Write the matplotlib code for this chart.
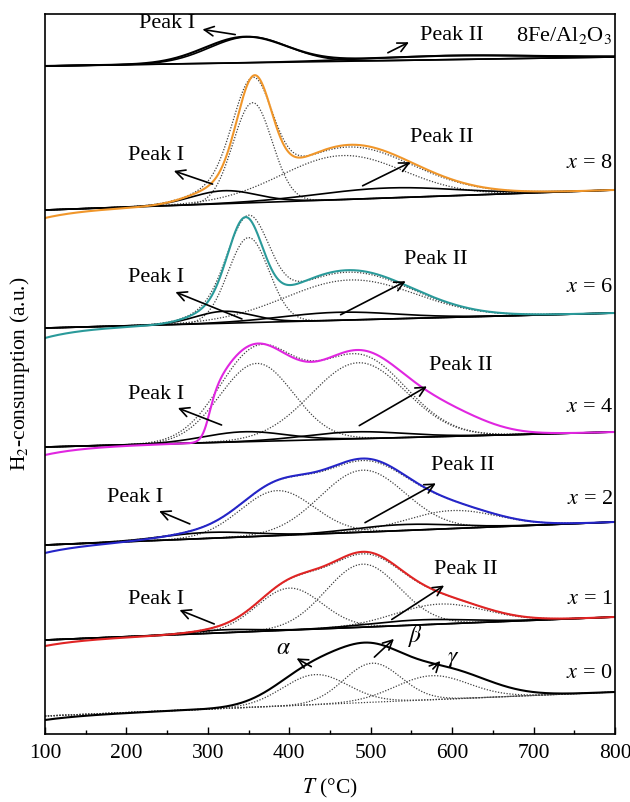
import numpy as np
import matplotlib.pyplot as plt

plt.rcParams['font.family'] = ['Liberation Serif', 'DejaVu Serif']
plt.rcParams['mathtext.fontset'] = 'stix'

# temperature grid (C)
T = np.linspace(100, 800, 1401)

# panels from top to bottom; vertical values are in plot units
panel_labels = ['8Fe/Al$_2$O$_3$', '$x$ = 8', '$x$ = 6', '$x$ = 4', '$x$ = 2', '$x$ = 1', '$x$ = 0']
label_y = [698, 570, 446, 326, 234, 135, 60]
colors = ['black', '#f0962a', '#2a9a9a', '#e026e0', '#2525c8', '#e02424', 'black']

# baseline at 100 C and at 800 C
base_left = [668, 524, 406, 287, 189, 94, 18]
base_right = [677, 544, 421, 302, 212, 117, 42]
# how far the measured curve starts below the baseline
data_dip = [0, 8, 10, 8, 8, 6, 4]
# reduction onset of the measured curve (T, width), 0 = none
onset_T = [0, 0, 0, 300, 0, 0, 0]
onset_w = [1, 1, 1, 5, 1, 1, 1]

# fitted gaussian peaks (centre, sigma, height)
dotted_peaks = [
    [],
    [(355, 24, 100), (465, 75, 44)],
    [(350, 25, 85), (475, 80, 40)],
    [(360, 45, 78), (485, 58, 76)],
    [(385, 45, 45), (490, 52, 62), (600, 55, 18)],
    [(400, 40, 42), (490, 45, 63), (585, 55, 20)],
    [(432, 40, 30), (502, 35, 39), (575, 45, 24)],
]
solid_peaks = [
    [(350, 48, 26), (600, 100, 4)],
    [(320, 40, 13), (520, 85, 10)],
    [(320, 35, 12), (460, 70, 8)],
    [(345, 50, 10), (480, 60, 7)],
    [(300, 55, 6), (540, 60, 6)],
    [(320, 40, 3), (560, 60, 5)],
    [],
]
# measured TPR profiles
data_peaks = [
    [(346, 50, 26), (600, 100, 4)],
    [(357, 21, 102), (468, 75, 46), (320, 40, 13), (520, 85, 10)],
    [(346, 21, 83), (475, 80, 42), (320, 35, 12), (460, 70, 8)],
    [(355, 48, 92), (485, 55, 84), (590, 50, 22)],
    [(385, 45, 45), (490, 52, 64), (600, 55, 18), (300, 55, 6), (540, 60, 6)],
    [(400, 40, 42), (490, 45, 65), (585, 55, 20), (320, 40, 3), (560, 60, 5)],
    [(430, 45, 35), (500, 40, 40), (585, 55, 30)],
]

# Peak I / Peak II annotations: text, arrow head, arrow tail (T, y)
peak1_text = [(250, 710), (237, 578), (237, 456), (237, 339), (211, 236), (237, 134)]
peak1_head = [(290, 705), (255, 564), (257, 443), (260, 327), (237, 224), (262, 125)]
peak1_tail = [(337, 699), (309, 549), (345, 414), (320, 308), (281, 209), (311, 109)]
peak2_text = [(599, 698), (587, 596), (580, 474), (611, 368), (613, 268), (617, 165)]
peak2_head = [(550, 693), (552, 573), (546, 454), (572, 349), (583, 252), (593, 150)]
peak2_tail = [(518, 680), (487, 547), (460, 418), (483, 307), (490, 210), (523, 113)]
greek = [r'$\alpha$', r'$\beta$', r'$\gamma$']
greek_text = [(393, 86), (555, 98), (601, 75)]
greek_head = [(406, 77), (531, 97), (588, 75)]
greek_tail = [(430, 66), (502, 75), (574, 63)]


def gauss(c, s, h):
    return h * np.exp(-(T - c) ** 2 / (2 * s ** 2))


fig = plt.figure(figsize=(6.3, 8.02), dpi=100)
ax = fig.add_axes([45 / 630, 68 / 802, 570 / 630, 720 / 802])

dot = dict(color='#404040', lw=0.9, ls=(0, (1, 1.3)))
for i in range(len(panel_labels)):
    base = base_left[i] + (base_right[i] - base_left[i]) * (T - 100) / 700
    # baseline
    if i == len(panel_labels) - 1:
        ax.plot(T, base, **dot)
    else:
        ax.plot(T, base, color='black', lw=1.2)
    # dotted components and fitted envelope
    fit = np.zeros_like(T)
    for c, s, h in dotted_peaks[i]:
        ax.plot(T, base + gauss(c, s, h), **dot)
        fit += gauss(c, s, h)
    for c, s, h in solid_peaks[i]:
        fit += gauss(c, s, h)
    if 0 < i < len(panel_labels) - 1:
        ax.plot(T, base + fit, **dot)
    # solid Peak I / Peak II
    for c, s, h in solid_peaks[i]:
        ax.plot(T, base + gauss(c, s, h), color='black', lw=1.2)
    # measured curve
    meas = sum(gauss(c, s, h) for c, s, h in data_peaks[i])
    if onset_T[i]:
        meas = meas / (1 + np.exp(-(T - onset_T[i]) / onset_w[i]))
    meas = meas - data_dip[i] * np.exp(-(T - 100) / 50)
    ax.plot(T, base + meas, color=colors[i], lw=1.5)

    ax.text(797, label_y[i], panel_labels[i], ha='right', va='center', fontsize=16)

arrow = dict(arrowstyle='->', color='black', lw=1.2, mutation_scale=17)
for i in range(len(peak1_text)):
    ax.annotate('', xy=peak1_head[i], xytext=peak1_tail[i], arrowprops=arrow)
    ax.text(*peak1_text[i], 'Peak I', ha='center', va='center', fontsize=16)
    ax.annotate('', xy=peak2_head[i], xytext=peak2_tail[i], arrowprops=arrow)
    ax.text(*peak2_text[i], 'Peak II', ha='center', va='center', fontsize=16)
for i in range(len(greek)):
    ax.annotate('', xy=greek_head[i], xytext=greek_tail[i], arrowprops=arrow)
    ax.text(*greek_text[i], greek[i], ha='center', va='center', fontsize=17)

ax.set_xlim(100, 800)
ax.set_ylim(0, 720)
ax.set_xticks(range(100, 801, 100))
ax.set_xticks(range(150, 800, 100), minor=True)
ax.set_yticks([])
ax.tick_params(axis='x', which='major', direction='in', length=5, width=1, labelsize=15.5, pad=7)
ax.tick_params(axis='x', which='minor', direction='in', length=3, width=1)
for sp in ax.spines.values():
    sp.set_linewidth(1.2)
ax.set_xlabel('$T$ (°C)', fontsize=15.5, labelpad=10)
fig.text(20 / 630, 1 - 374 / 802, 'H$_2$-consumption (a.u.)', rotation=90,
         ha='center', va='center', fontsize=15.5)

fig.savefig('out.png', dpi=100)
